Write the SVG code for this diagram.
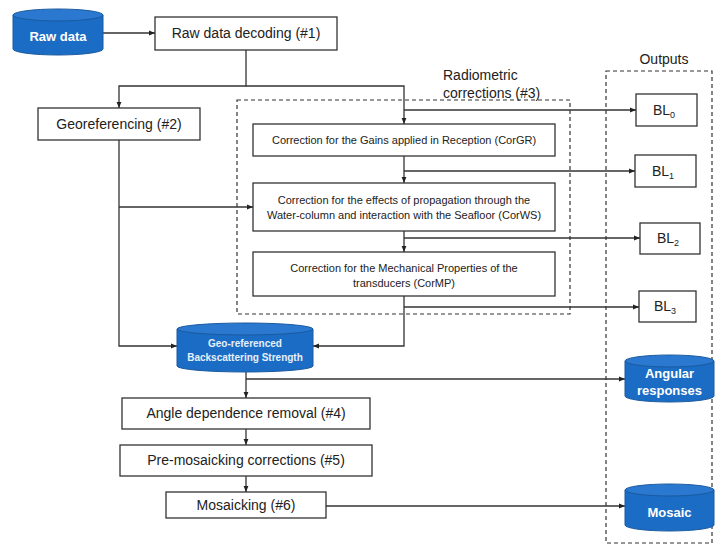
<svg xmlns="http://www.w3.org/2000/svg" width="715" height="545" viewBox="0 0 715 545">
<defs>
<marker id="ah" viewBox="0 0 10 10" refX="10" refY="5" markerWidth="6" markerHeight="6" orient="auto" markerUnits="userSpaceOnUse">
<path d="M0,1 L10,5 L0,9 z" fill="#222"/>
</marker>
<style>
.box{fill:#fff;stroke:#333;stroke-width:1.3}
.dash{fill:none;stroke:#333;stroke-width:1.2;stroke-dasharray:4,3}
.t{font-family:"Liberation Sans",Arial,sans-serif;font-size:14px;fill:#222;text-anchor:middle}
.s{font-family:"Liberation Sans",Arial,sans-serif;font-size:11px;fill:#222;text-anchor:middle}
.cb{fill:#1b6cc4;stroke:#1a5aa0;stroke-width:1}
.ct{fill:#2a78cf;stroke:#1a5aa0;stroke-width:1}
.w{font-family:"Liberation Sans",Arial,sans-serif;font-size:13px;font-weight:bold;fill:#fff;text-anchor:middle}
.ws{font-family:"Liberation Sans",Arial,sans-serif;font-size:10px;font-weight:bold;fill:#e6f0fa;text-anchor:middle}
.c{fill:none;stroke:#333;stroke-width:1.3}
</style>
</defs>
<rect width="715" height="545" fill="#fff"/>

<rect class="dash" x="237" y="100" width="333" height="214"/>
<rect class="dash" x="606" y="71" width="106" height="472"/>
<text class="t" x="443" y="80" text-anchor="start" style="text-anchor:start">Radiometric</text>
<text class="t" x="443" y="98" style="text-anchor:start">corrections (#3)</text>
<text class="t" x="664" y="64">Outputs</text>

<g id="connectors">
<path class="c" d="M103,33 H155" marker-end="url(#ah)"/>
<path class="c" d="M246,50 V86 H119 V108" marker-end="url(#ah)"/>
<path class="c" d="M246,86 H404 V124" marker-end="url(#ah)"/>
<path class="c" d="M404,110 H636" marker-end="url(#ah)"/>
<path class="c" d="M404,156 V183" marker-end="url(#ah)"/>
<path class="c" d="M404,171 H635" marker-end="url(#ah)"/>
<path class="c" d="M119,140 V346 H177" marker-end="url(#ah)"/>
<path class="c" d="M119,207 H253" marker-end="url(#ah)"/>
<path class="c" d="M404,231 V252" marker-end="url(#ah)"/>
<path class="c" d="M404,238 H640" marker-end="url(#ah)"/>
<path class="c" d="M404,296 V346 H313" marker-end="url(#ah)"/>
<path class="c" d="M404,307 H639" marker-end="url(#ah)"/>
<path class="c" d="M246,372 V398" marker-end="url(#ah)"/>
<path class="c" d="M246,379 H625" marker-end="url(#ah)"/>
<path class="c" d="M246,429 V445" marker-end="url(#ah)"/>
<path class="c" d="M246,476 V492" marker-end="url(#ah)"/>
<path class="c" d="M326,506 H625" marker-end="url(#ah)"/>
</g>

<g id="rawdata">
<path class="cb" d="M13,15 V49 A45,6 0 0 0 103,49 V15 z"/>
<ellipse class="ct" cx="58" cy="15" rx="45" ry="6"/>
<text class="w" x="58" y="41">Raw data</text>
</g>

<g id="decoding">
<rect class="box" x="155" y="17" width="182" height="33"/>
<text class="t" x="246" y="38">Raw data decoding (#1)</text>
</g>

<g id="georef">
<rect class="box" x="38" y="108" width="162" height="32"/>
<text class="t" x="119" y="129">Georeferencing (#2)</text>
</g>

<g id="corgr">
<rect class="box" x="253" y="124" width="302" height="32"/>
<text class="s" x="404" y="144">Correction for the Gains applied in Reception (CorGR)</text>
</g>

<g id="corws">
<rect class="box" x="253" y="183" width="302" height="48"/>
<text class="s" x="404" y="204">Correction for the effects of propagation through the</text>
<text class="s" x="404" y="219">Water-column and interaction with the Seafloor (CorWS)</text>
</g>

<g id="cormp">
<rect class="box" x="253" y="252" width="302" height="44"/>
<text class="s" x="404" y="272">Correction for the Mechanical Properties of the</text>
<text class="s" x="404" y="287">transducers (CorMP)</text>
</g>

<g id="bl0">
<rect class="box" x="636" y="94" width="61" height="32"/>
<text class="t" x="664" y="115">BL<tspan font-size="9" dy="3">0</tspan></text>
</g>
<g id="bl1">
<rect class="box" x="635" y="155" width="61" height="32"/>
<text class="t" x="663" y="176">BL<tspan font-size="9" dy="3">1</tspan></text>
</g>
<g id="bl2">
<rect class="box" x="640" y="223" width="60" height="31"/>
<text class="t" x="668" y="243">BL<tspan font-size="9" dy="3">2</tspan></text>
</g>
<g id="bl3">
<rect class="box" x="639" y="291" width="57" height="31"/>
<text class="t" x="665" y="311">BL<tspan font-size="9" dy="3">3</tspan></text>
</g>

<g id="geobs">
<path class="cb" d="M177,329 V366 A68,6 0 0 0 313,366 V329 z"/>
<ellipse class="ct" cx="245" cy="329" rx="68" ry="6"/>
<text class="ws" x="245" y="347">Geo-referenced</text>
<text class="ws" x="245" y="361">Backscattering Strength</text>
</g>

<g id="angle">
<rect class="box" x="122" y="398" width="248" height="31"/>
<text class="t" x="246" y="418">Angle dependence removal (#4)</text>
</g>

<g id="premosaic">
<rect class="box" x="120" y="445" width="252" height="31"/>
<text class="t" x="246" y="465">Pre-mosaicking corrections (#5)</text>
</g>

<g id="mosaicking">
<rect class="box" x="166" y="492" width="160" height="26"/>
<text class="t" x="246" y="510">Mosaicking (#6)</text>
</g>

<g id="angular">
<path class="cb" d="M625,361 V396 A44.5,6 0 0 0 714,396 V361 z"/>
<ellipse class="ct" cx="669.5" cy="361" rx="44.5" ry="6"/>
<text class="w" x="669.5" y="378">Angular</text>
<text class="w" x="669.5" y="395">responses</text>
</g>

<g id="mosaic">
<path class="cb" d="M625,490 V525 A44.5,6 0 0 0 714,525 V490 z"/>
<ellipse class="ct" cx="669.5" cy="490" rx="44.5" ry="6"/>
<text class="w" x="669.5" y="517">Mosaic</text>
</g>
</svg>
